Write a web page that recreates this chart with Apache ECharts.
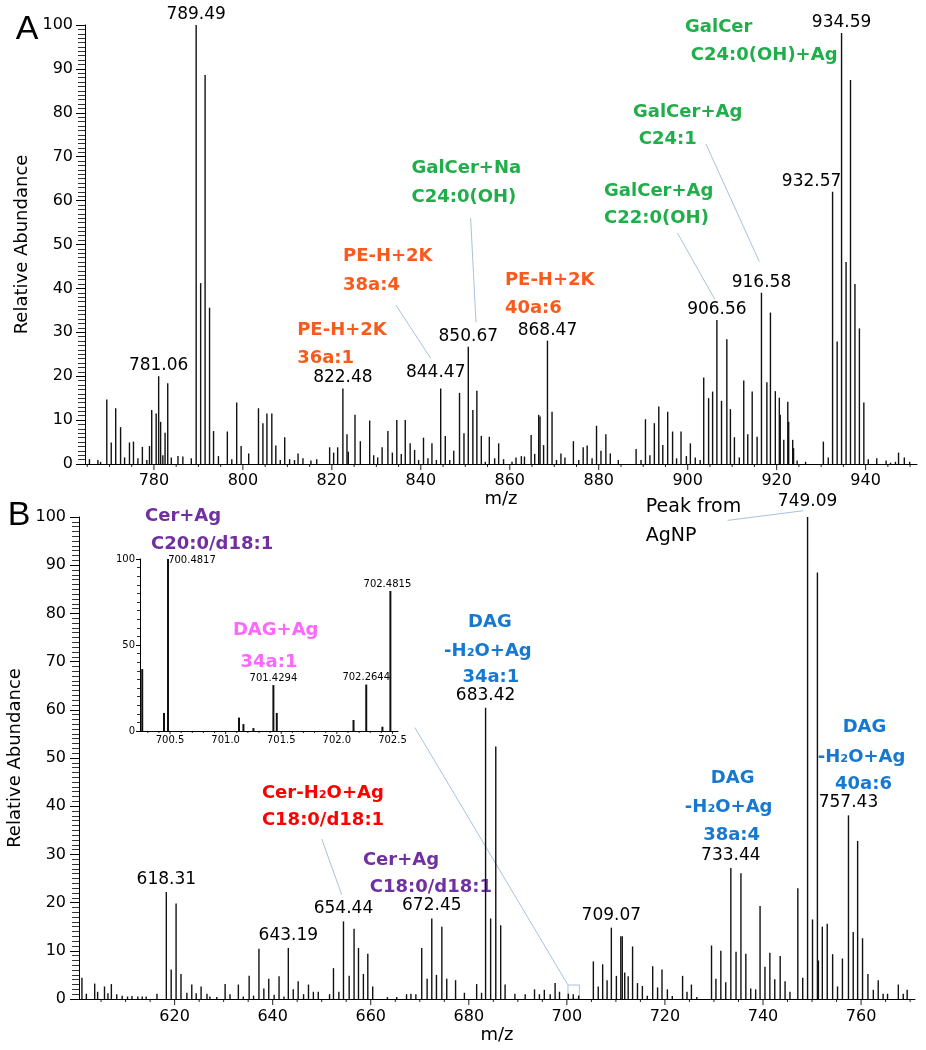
<!DOCTYPE html>
<html><head><meta charset="utf-8">
<script src="https://cdn.jsdelivr.net/npm/echarts@6/dist/echarts.min.js"></script>
<style>html,body{margin:0;padding:0;background:#fff}#c{width:926px;height:1050px}</style>
</head><body><div id="c"></div>
<script>
// ---------- Panel A data ----------
const mzA = [765.5,767.4,768.0,769.4,770.4,771.4,772.5,773.4,774.5,775.4,776.4,777.4,778.4,779.0,779.5,780.5,781.06,781.5,782.0,782.5,783.1,783.9,785.4,786.5,788.4,789.49,790.5,791.5,792.5,793.4,794.5,796.5,797.5,798.6,799.6,801.3,803.5,804.5,805.4,806.5,807.4,808.4,809.4,810.5,811.6,812.4,813.5,815.3,816.6,819.5,820.4,821.3,822.48,823.4,823.7,825.2,826.4,828.5,829.4,830.3,831.3,832.6,833.6,834.6,835.6,836.5,837.6,838.6,839.5,840.6,841.6,842.5,843.5,844.47,845.5,846.5,847.4,848.7,849.7,850.67,851.7,852.6,853.6,854.5,855.4,856.6,857.5,858.6,860.5,861.4,862.6,863.3,864.8,865.6,866.5,866.8,867.6,868.47,869.5,870.5,871.5,872.4,874.3,875.5,876.5,877.4,878.5,879.5,880.5,881.6,882.6,884.4,888.4,889.5,890.5,891.5,892.5,893.5,894.4,895.5,896.6,897.5,898.5,899.7,900.6,901.7,902.8,903.6,904.7,905.6,906.56,907.6,908.8,909.6,910.5,911.6,912.6,913.5,914.5,915.6,916.58,917.8,918.6,919.7,920.6,920.8,921.6,922.5,922.7,923.6,923.8,924.6,926.5,930.5,931.6,932.57,933.6,934.59,935.6,936.6,937.6,938.6,939.6,940.6,942.5,944.6,945.6,946.7,947.4,948.7,949.9];
const intA = [1.1,0.9,0.5,14.7,4.9,12.7,8.4,1.5,4.9,5.1,1.3,3.9,0.9,4.1,12.3,11.5,20.0,9.6,2.0,7.1,18.4,1.5,1.8,1.7,1.3,100,41.2,88.6,35.6,7.5,1.8,7.4,1.1,14.0,4.1,2.4,12.7,9.3,11.5,11.5,4.2,0.9,6.1,1.1,0.9,2.4,1.3,0.8,1.1,3.8,2.6,3.8,17.2,6.8,2.8,11.2,5.2,9.9,2.0,1.5,3.8,7.5,2.6,10.0,2.3,10.0,4.7,3.2,0.9,6.0,1.3,4.7,0.9,17.2,6.4,0.9,3.0,16.2,7.0,26.7,12.3,16.7,6.4,0.5,6.2,1.3,4.7,1.1,0.5,1.5,1.8,1.7,6.6,2.3,11.2,10.8,4.3,28.1,11.9,0.9,2.4,1.5,5.2,0.9,3.8,4.2,1.3,8.7,3.0,6.8,2.4,0.9,3.4,0.9,10.2,2.0,9.3,13.1,4.3,11.9,7.4,1.3,7.4,1.8,4.7,1.5,0.9,19.7,15.0,16.5,32.8,14.4,28.4,12.5,6.1,1.5,19.0,6.8,16.5,6.2,39.0,18.6,34.5,16.6,15.1,11.2,5.5,14.2,9.6,5.5,3.6,0.8,0.5,5.1,1.5,62.0,27.9,98.2,46.0,87.5,41.0,30.9,14.0,1.1,1.3,0.8,0.3,0.5,2.6,1.5,0.5];
const labelsA = ['781.06','789.49','822.48','844.47','850.67','868.47','906.56','916.58','932.57','934.59'];

// ---------- Panel B data ----------
const mzB = [601.1,602.0,603.7,604.3,605.7,606.4,607.1,608.2,609.3,610.4,611.3,612.5,613.4,614.2,616.4,618.31,619.3,620.3,621.3,622.5,623.5,624.4,625.4,626.6,627.2,628.6,630.3,631.3,633.0,634.0,635.2,636.1,637.2,638.2,639.2,640.3,641.3,642.3,643.19,644.2,645.2,646.3,647.3,648.3,649.3,651.6,652.4,653.5,654.44,655.6,656.6,657.5,658.5,659.4,660.4,663.4,665.3,667.3,668.2,669.2,670.4,671.5,672.45,673.4,674.5,675.5,677.3,679.1,681.6,682.6,683.42,684.45,685.5,686.5,687.4,689.4,691.5,693.4,694.4,695.4,696.6,697.6,698.5,700.3,701.3,702.4,705.4,706.4,707.3,708.2,709.07,710.1,711.0,711.3,711.8,712.5,713.4,714.4,715.4,716.4,717.5,718.5,719.4,720.5,721.5,723.6,724.5,725.4,726.5,729.5,730.4,731.4,732.4,733.44,734.5,735.5,736.5,737.5,738.5,739.4,740.4,741.4,742.4,743.5,744.5,745.5,747.1,748.1,749.09,750.1,751.1,751.3,752.1,753.1,754.2,755.2,756.2,757.43,758.4,759.3,760.3,761.4,762.5,763.5,764.5,765.4,767.6,768.6,769.4];
const intB = [4.4,1.1,3.2,1.5,2.6,1.2,3.1,1.0,0.7,0.5,0.6,0.5,0.5,0.5,1.1,22.2,6.1,19.8,5.2,1.3,3.0,1.2,2.6,1.1,0.5,0.4,3.1,1.0,3.0,0.5,4.8,0.7,10.4,2.2,4.2,0.9,4.7,0.5,10.6,2.0,3.7,1.0,3.0,1.5,1.5,1.0,6.4,1.5,16.1,4.8,14.6,10.6,5.2,9.4,2.6,0.4,0.4,1.0,1.1,1.0,10.6,4.2,16.7,5.0,15.0,4.2,3.9,1.3,3.1,1.3,60.4,16.7,52.4,15.3,3.0,1.1,1.0,2.0,1.0,1.9,1.0,3.3,1.5,1.1,1.0,0.7,7.8,2.6,7.2,3.9,14.8,4.8,13.0,13.0,5.5,4.7,10.9,3.3,2.7,0.7,6.8,2.4,6.1,2.0,0.6,4.8,1.5,3.0,0.4,11.1,4.2,10.0,3.5,27.2,9.8,26.1,9.4,2.2,2.0,19.3,6.7,9.6,4.1,8.9,3.7,1.5,23.0,4.4,100,16.5,88.5,8.0,15.0,15.6,9.3,2.6,8.4,38.1,13.9,32.8,12.6,5.2,1.9,3.9,1.1,1.1,3.0,1.1,1.9];
const labelsB = ['618.31','643.19','654.44','672.45','683.42','709.07','733.44','749.09','757.43'];

// ---------- Inset data ----------
const mzIn = [700.25,700.446,700.4817,701.12,701.16,701.25,701.4294,701.46,702.15,702.2644,702.41,702.4815];
const intIn = [36,10.5,100,7.8,4,1.7,26.7,10.5,6.4,27,2.5,81.4];
const labelsIn = ['700.4817','701.4294','702.2644','702.4815'];

// ---------- Annotations: [text, m/z, abundance, colour key, align] ----------
const annotA = [
  ['PE-H+2K',812.2,30.5,'orange','left'],['36a:1',812.2,24.1,'orange','left'],
  ['PE-H+2K',822.5,47.2,'orange','left'],['38a:4',822.5,40.8,'orange','left'],
  ['GalCer+Na',837.9,67.4,'green','left'],['C24:0(OH)',837.9,60.8,'green','left'],
  ['PE-H+2K',858.9,41.9,'orange','left'],['40a:6',858.9,35.5,'orange','left'],
  ['GalCer',899.4,99.5,'green','left'],['C24:0(OH)+Ag',900.7,93.2,'green','left'],
  ['GalCer+Ag',887.7,80.2,'green','left'],['C24:1',889.0,74.0,'green','left'],
  ['GalCer+Ag',881.2,62.2,'green','left'],['C22:0(OH)',881.2,56.0,'green','left']
];
const leadA = [[834.4,36.2,842.2,24.1],[851.2,56.0,852.4,32.3],[904.1,72.9,916.1,46.1],[897.7,52.6,906.1,37.5]];
const annotB = [
  ['Cer+Ag',613.96,100.2,'purple','left'],['C20:0/d18:1',615.18,94.4,'purple','left'],
  ['DAG',684.3,78.2,'blue','center'],['-H\u2082O+Ag',683.9,72.2,'blue','center'],['34a:1',684.5,66.7,'blue','center'],
  ['Cer-H\u2082O+Ag',637.8,42.7,'red','left'],['C18:0/d18:1',637.8,37.1,'red','left'],
  ['Cer+Ag',658.4,28.7,'purple','left'],['C18:0/d18:1',659.8,23.2,'purple','left'],
  ['DAG',733.8,45.7,'blue','center'],['-H\u2082O+Ag',733.0,39.8,'blue','center'],['38a:4',733.6,33.9,'blue','center'],
  ['DAG',760.7,56.3,'blue','center'],['-H\u2082O+Ag',760.1,50.2,'blue','center'],['40a:6',760.5,44.5,'blue','center']
];
const noteB = [['Peak from',716.1,102.0],['AgNP',716.1,96.1]];
const leadB = [[732.8,99.3,748.2,101.3],[650.0,33.2,654.1,21.6]];
const annotIn = [['DAG+Ag',701.45,58.7,'pink','center'],['34a:1',701.39,40.1,'pink','center']];
const insetBox = [700.23,702.55,0,2.9];      // zoom window in panel B (m/z range, abundance range)
const insetLinkStart = [669.0,56.3];        // connector start in panel B coordinates

const COLORS = {orange:'#fa5a1c', green:'#1fae4a', purple:'#7030a0', blue:'#1778cf', red:'#ff0000', pink:'#ff66ff'};
const LEAD = '#a9c1e0';
const FONT = '"DejaVu Sans", Verdana, sans-serif';

// axis ranges and x hatch steps per grid: [xmin, xmax, majorX, minorX]
const AX = [[764.5, 951.55, 20, 5], [600.5, 771, 20, 5], [700.23, 702.55, 0.5, 0.1]];

function items(mz, ab, labels, dec, offsets) {
  return mz.map((m, i) => {
    const s = m.toFixed(dec);
    const it = {value: [m, ab[i]]};
    if (labels.includes(s)) {
      it.lab = s;
      it.label = {show: true};
      if (offsets[s]) it.label.offset = offsets[s];
    }
    return it;
  });
}
function fmtStep(step, dec) {
  return v => (Math.abs(v / step - Math.round(v / step)) < 1e-6 ? v.toFixed(dec) : '');
}
function xAxis(g, split, dec, fs, margin, nameGap, small) {
  return {
    type: 'value', gridIndex: g, min: AX[g][0], max: AX[g][1], splitNumber: split, position: 'bottom',
    name: small ? '' : 'm/z', nameLocation: 'middle', nameGap,
    nameTextStyle: {fontSize: 18, fontFamily: FONT, color: '#000'},
    axisLine: {show: true, onZero: false, lineStyle: {color: '#000', width: 1}},
    axisTick: {show: false},
    axisLabel: {fontSize: fs, fontFamily: FONT, color: '#000', margin, formatter: fmtStep(AX[g][2], dec)},
    splitLine: {show: false}
  };
}
function yAxis(g, interval, fs, margin, nameGap, small) {
  return {
    type: 'value', gridIndex: g, min: 0, max: 100, interval, position: 'left',
    name: small ? '' : 'Relative Abundance', nameLocation: 'middle', nameRotate: 90, nameGap,
    nameTextStyle: {fontSize: 18, fontFamily: FONT, color: '#000'},
    axisLine: {show: true, lineStyle: {color: '#000', width: 1}},
    axisTick: {show: true, length: small ? 4 : 9, lineStyle: {color: '#000'}},
    minorTick: {show: true, splitNumber: 10, length: small ? 3 : 7, lineStyle: {color: '#333', width: 1}},
    axisLabel: {fontSize: fs, fontFamily: FONT, color: '#000', margin},
    splitLine: {show: false}
  };
}
function barSeries(xi, data, w, fs, dist) {
  return {
    type: 'bar', xAxisIndex: xi, yAxisIndex: xi, data, barWidth: w,
    itemStyle: {color: '#111'}, animation: false, clip: true,
    label: {show: false, position: 'top', distance: dist, fontSize: fs, fontFamily: FONT, color: '#000',
            formatter: p => p.data.lab || ''}
  };
}

const chart = echarts.init(document.getElementById('c'), null, {renderer: 'canvas'});
chart.setOption({
  backgroundColor: '#fff',
  animation: false,
  grid: [
    {left: 85, top: 25, width: 832, height: 439, containLabel: false, outerBoundsMode: 'none'},
    {left: 79, top: 517, width: 836, height: 482, containLabel: false, outerBoundsMode: 'none'},
    {left: 140, top: 559, width: 258, height: 172, containLabel: false, outerBoundsMode: 'none'}
  ],
  xAxis: [
    xAxis(0, 9, 0, 16, 9, 24, false),
    xAxis(1, 8, 0, 16, 10, 27, false),
    xAxis(2, 5, 1, 10, 4, 0, true)
  ],
  yAxis: [
    yAxis(0, 10, 16, 12, 53, false),
    yAxis(1, 10, 16, 13, 44.5, false),
    yAxis(2, 50, 10, 5, 0, true)
  ],
  series: [
    barSeries(0, items(mzA, intA, labelsA, 2, {'932.57': [-21, 0], '844.47': [-5, -5]}), 1.4, 17, 2),
    barSeries(1, items(mzB, intB, labelsB, 2, {'749.09': [0, -3]}), 1.4, 17, 4),
    barSeries(2, items(mzIn, intIn, labelsIn, 4, {'700.4817': [24, 8], '702.4815': [-3, 0]}), 2, 10, 2)
  ]
});

const P = (g, pt) => chart.convertToPixel({gridIndex: g}, pt);
const gfx = [];
function txt(g, t, m, a, color, align, font) {
  const p = P(g, [m, a]);
  gfx.push({type: 'text', x: p[0], y: p[1],
    style: {text: t, fill: color, font, align, textAlign: align, verticalAlign: 'middle', textVerticalAlign: 'middle'}});
}
function seg(x1, y1, x2, y2, stroke) {
  gfx.push({type: 'line', shape: {x1, y1, x2, y2}, style: {stroke, lineWidth: 1}});
}
function lead(g, l) {
  const a = P(g, [l[0], l[1]]), b = P(g, [l[2], l[3]]);
  seg(a[0], a[1], b[0], b[1], LEAD);
}
// x-axis ticks: every minor step, longer at labelled values (positions from the axis scale)
AX.forEach((ax, g) => {
  const small = g === 2;
  const n0 = Math.ceil(ax[0] / ax[3] - 1e-9), n1 = Math.floor(ax[1] / ax[3] + 1e-9);
  const per = Math.round(ax[2] / ax[3]);
  for (let k = n0; k <= n1; k++) {
    const p = P(g, [k * ax[3], 0]);
    const len = (k % per === 0) ? (small ? 3 : 6) : (small ? 2 : 3);
    seg(p[0], p[1], p[0], p[1] + len, '#222');
  }
});
const BOLD = 'bold 18px ' + FONT;
annotA.forEach(r => txt(0, r[0], r[1], r[2], COLORS[r[3]], r[4], BOLD));
leadA.forEach(l => lead(0, l));
annotB.forEach(r => txt(1, r[0], r[1], r[2], COLORS[r[3]], r[4], BOLD));
noteB.forEach(r => txt(1, r[0], r[1], r[2], '#000', 'left', '19px ' + FONT));
leadB.forEach(l => lead(1, l));
annotIn.forEach(r => txt(2, r[0], r[1], r[2], COLORS[r[3]], r[4], BOLD));
// zoom box and connector
const b0 = P(1, [insetBox[0], insetBox[3]]), b1 = P(1, [insetBox[1], insetBox[2]]);
gfx.push({type: 'rect', shape: {x: b0[0], y: b0[1], width: b1[0] - b0[0], height: b1[1] - b0[1]},
  style: {stroke: LEAD, fill: 'none', lineWidth: 1}});
const s0 = P(1, insetLinkStart);
seg(s0[0], s0[1], b0[0], b0[1], LEAD);
// panel letters
gfx.push({type: 'text', x: 27, y: 30, style: {text: 'A', fill: '#000', font: '34px "Liberation Sans", Arial, sans-serif', align: 'center', textAlign: 'center', verticalAlign: 'middle', textVerticalAlign: 'middle'}});
gfx.push({type: 'text', x: 19, y: 516, style: {text: 'B', fill: '#000', font: '34px "Liberation Sans", Arial, sans-serif', align: 'center', textAlign: 'center', verticalAlign: 'middle', textVerticalAlign: 'middle'}});
chart.setOption({graphic: {elements: gfx}});
</script>
</body></html>
